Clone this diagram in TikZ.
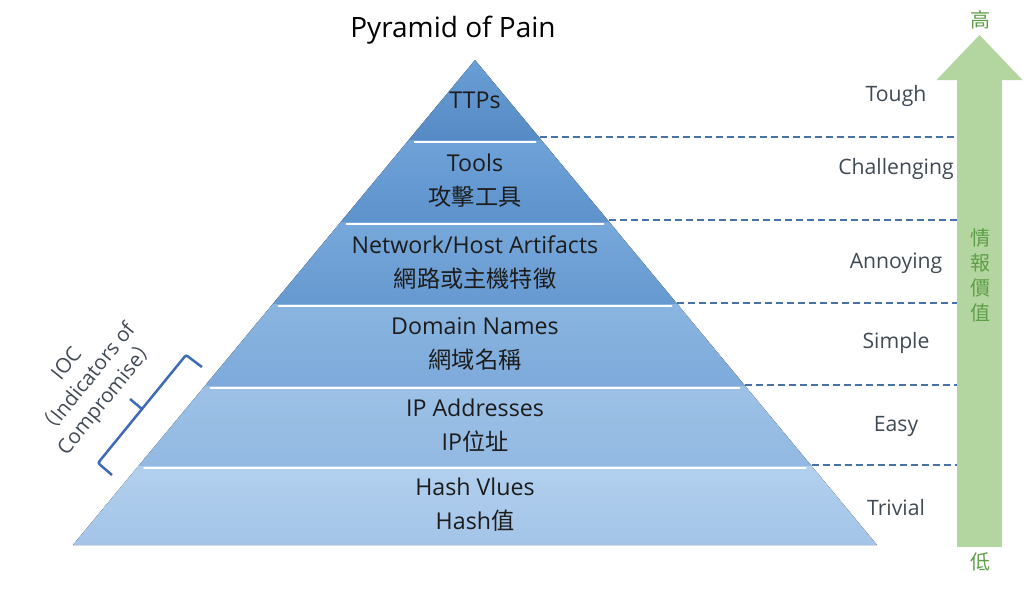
\documentclass[tikz,border=0pt]{standalone}
\usepackage{fontspec}
\setmainfont{Open Sans}
\newfontfamily\cjk{Noto Sans CJK TC}
\usepackage{tikz}
\usetikzlibrary{arrows.meta}
\usetikzlibrary{calc}

\definecolor{tiertext}{HTML}{1C1C1C}
\definecolor{ratetext}{HTML}{404A54}
\definecolor{levelline}{HTML}{4A70A8}
\definecolor{iocblue}{HTML}{3F6AB5}
\definecolor{valgreen}{HTML}{B3D59F}
\definecolor{valtext}{HTML}{5E9E48}

\tikzset{
  hilite/.style={draw=white, line width=2.5pt, line cap=round},
  valuearrow/.style={draw=valgreen, line width=45pt,
    -{Triangle[length=45pt, width=86pt, line width=0pt]}}
}

\begin{document}
\begin{tikzpicture}[x=1pt,y=-1pt]
\useasboundingbox (0,0) rectangle (1024,590);

% tiers of the pyramid
\foreach \ya/\yb/\ca/\cb [count=\i] in {60/140/6A9ED6/558AC4,
    140/222/6FA2D8/5D92CC, 222/304/77A8DB/6699D0,
    304/386/8AB5E0/7DAADB, 386/466/9DC1E6/92B9E2,
    466/545/B2D0EE/A3C4E8} {
  \pgfmathsetmacro\da{0.829*(\ya-60)}
  \pgfmathsetmacro\db{0.829*(\yb-60)}
  \definecolor{ctop}{HTML}{\ca}
  \definecolor{cbot}{HTML}{\cb}
  \fill[top color=ctop, bottom color=cbot] (475-\da,\ya) -- (475+\da,\ya)
    -- (475+\db,\yb) -- (475-\db,\yb) -- cycle;
}
\foreach \y in {140,222,304,386,466} {
  \pgfmathsetmacro\d{0.829*(\y-60)}
  \draw[hilite] (475-\d+6,\y+2) -- (475+\d-6,\y+2);
}

\node (title) at (453,30) {\fontsize{28}{32}\selectfont Pyramid of Pain};

\begin{scope}[every node/.style={align=center, text=tiertext,
    font=\fontsize{23.2}{34}\selectfont}]
  \node (ttps) at (475,100) {TTPs};
  \node (tools) at (475,181) {Tools\\\cjk 攻擊工具};
  \node (artifacts) at (475,263) {Network/Host Artifacts\\\cjk 網路或主機特徵};
  \node (domains) at (475,344) {Domain Names\\\cjk 網域名稱};
  \node (ips) at (475,426) {IP Addresses\\IP{\cjk 位址}};
  \node (hashes) at (475,505) {Hash Vlues\\Hash{\cjk 值}};
\end{scope}

\begin{scope}[every node/.style={text=ratetext,
    font=\fontsize{21.2}{24}\selectfont}]
  \node (tough) at (896,96) {Tough};
  \node (challenging) at (896,169) {Challenging};
  \node (annoying) at (896,263) {Annoying};
  \node (simple) at (896,343) {Simple};
  \node (easy) at (896,426) {Easy};
  \node (trivial) at (896,508) {Trivial};
\end{scope}

% levels to the value arrow
\foreach \y [count=\i] in {138,221,304,386,466} {
  \coordinate (edge\i) at (475+0.829*\y-49.7,\y-1);
  \coordinate (shaft\i) at (957,\y-1);
}
\begin{scope}[every edge/.style={draw=levelline, line width=2pt,
    dash pattern=on 7pt off 4pt}]
  \foreach \i in {1,...,5}
    \path (edge\i) edge (shaft\i);
\end{scope}

% value of the intelligence
\coordinate (vlow) at (979.5,547);
\coordinate (vhigh) at (979.5,35);
\draw[valuearrow] (vlow) -- (vhigh);
\begin{scope}[every node/.style={text=valtext, align=center,
    font=\cjk\fontsize{20}{25}\selectfont}]
  \node (high) at (980,20) {高};
  \node (low) at (980,562) {低};
  \node (value) at (980,275) {情\\報\\價\\值};
\end{scope}

% IOC bracket
\coordinate (iocA) at (98,463);
\coordinate (iocB) at (186,355);
\coordinate (iocM) at ($(iocA)!0.5!(iocB)$);
\draw[iocblue, line width=2.5pt, rounded corners=2pt]
  (112,475) -- (iocA) -- (iocB) -- (202,367);
\draw[iocblue, line width=2.5pt] (iocM) -- ++(-12,-10);
\node[rotate=51, align=center, text=ratetext,
  font=\fontsize{20.5}{26}\selectfont] (ioc) at (88,381)
  {IOC\\{\cjk （}Indicators of\\Compromise{\cjk ）}};
\end{tikzpicture}
\end{document}
